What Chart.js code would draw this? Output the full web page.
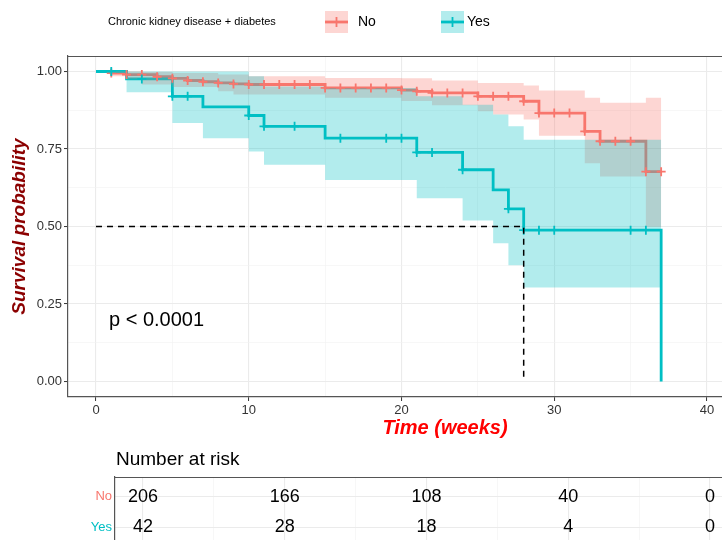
<!DOCTYPE html>
<html>
<head>
<meta charset="utf-8">
<script src="https://cdn.jsdelivr.net/npm/chart.js@4.4.1/dist/chart.umd.min.js"></script>
<style>
  html, body { margin: 0; padding: 0; background: #fff; overflow: hidden; }
  #wrap { position: relative; width: 722px; height: 540px; overflow: hidden; }
  #main { position: absolute; left: 0; top: 0; }
  #risk { position: absolute; left: 0; top: 445px; }
</style>
</head>
<body>
<div id="wrap">
  <canvas id="main" width="830" height="445"></canvas>
  <canvas id="risk" width="830" height="110"></canvas>
</div>
<script>
/* ===== DATA ===== */
const LEGEND_TITLE = 'Chronic kidney disease + diabetes';
const GROUPS = ['No', 'Yes'];

// Kaplan-Meier step curves: value holds from each time to the next
const NO_TIMES = [0, 1, 2, 4, 5, 6, 7, 8, 9, 10, 15, 20, 21, 22, 25, 28, 29, 32, 33, 36, 37];
const NO_SURV  = [1, 0.995, 0.990, 0.983, 0.978, 0.971, 0.967, 0.963, 0.960, 0.958, 0.947,
                  0.940, 0.936, 0.931, 0.920, 0.904, 0.866, 0.807, 0.775, 0.677, 0.677];
const NO_CENSOR = [1, 2, 3, 4, 5, 6, 7, 8, 9, 10, 11, 12, 13, 14, 15, 16, 17, 18, 19, 20,
                   21, 22, 23, 24, 25, 26, 27, 28, 29, 30, 31, 32, 33, 34, 35, 36, 37];

const YES_TIMES = [0, 2, 5, 7, 10, 11, 15, 21, 24, 26, 27, 28, 37];
const YES_SURV  = [1, 0.976, 0.920, 0.886, 0.858, 0.823, 0.785, 0.739, 0.683, 0.618, 0.557, 0.488, 0];
const YES_CENSOR = [1, 3, 5, 6, 10, 11, 13, 16, 19, 20, 21, 22, 24, 27, 28, 29, 30, 35, 36];

// 95% confidence bands
const NO_CI_TIMES = [0, 1, 2, 3, 5, 8, 9, 10, 15, 20, 22, 25, 26, 28, 29, 32, 33, 36, 37];
const NO_UPPER = [1, 1, 1, 0.998, 0.995, 0.990, 0.990, 0.985, 0.979, 0.978, 0.971, 0.963,
                  0.963, 0.955, 0.939, 0.915, 0.899, 0.915, 0.915];
const NO_LOWER = [1, 0.985, 0.975, 0.958, 0.950, 0.936, 0.926, 0.926, 0.915, 0.905, 0.891,
                  0.872, 0.861, 0.845, 0.793, 0.704, 0.661, 0.499, 0.499];

const YES_CI_TIMES = [0, 2, 5, 7, 10, 11, 15, 21, 24, 26, 27, 28, 37];
const YES_UPPER = [1, 1, 1, 1, 0.985, 0.952, 0.947, 0.920, 0.893, 0.861, 0.823, 0.780, 0.780];
const YES_LOWER = [1, 0.933, 0.834, 0.785, 0.742, 0.699, 0.650, 0.591, 0.519, 0.446, 0.375, 0.303, 0.303];

const MEDIAN_YES = 28;        // median survival of the "Yes" group
const PVAL_TEXT = 'p < 0.0001';
const PVAL_AT = [0.85, 0.196];

const X_TICKS = [0, 10, 20, 30, 40];
const X_GRID  = [0, 5, 10, 15, 20, 25, 30, 35, 40, 45];
const Y_TICKS = [0, 0.25, 0.5, 0.75, 1];
const Y_GRID  = [0, 0.125, 0.25, 0.375, 0.5, 0.625, 0.75, 0.875, 1];

const RISK_TIMES = [0, 10, 20, 30, 40];
const RISK_NO  = [206, 166, 108, 40, 0];
const RISK_YES = [42, 28, 18, 4, 0];

/* ===== STYLE ===== */
const FONT = '"Liberation Sans", Arial, Helvetica, sans-serif';
const RED = '#F8766D', TEAL = '#00BFC4';
const RED_FILL = 'rgba(248,118,109,0.3)', TEAL_FILL = 'rgba(0,191,196,0.3)';
const GRID = '#EBEBEB', GRID_MINOR = '#F2F2F2', BORDER = '#555', TICK = '#333';

/* ===== HELPERS ===== */
const pts = (xs, ys) => xs.map((x, i) => ({x, y: ys[i]}));
const survAt = (xs, ys, t) => { let v = ys[0]; xs.forEach((x, i) => { if (x <= t) v = ys[i]; }); return v; };
const censorPts = (cs, xs, ys) => cs.map(t => ({x: t, y: survAt(xs, ys, t)}));
const gridOpts = list => ({
  color: c => list.includes(c.tick.value) ? GRID : GRID_MINOR,
  lineWidth: c => list.includes(c.tick.value) ? 1.1 : 0.6,
  tickColor: c => list.includes(c.tick.value) ? TICK : 'rgba(0,0,0,0)',
  tickLength: 4,
  tickWidth: 1
});

const stepLine = (data, color, order) => ({
  data, order, stepped: 'before', borderColor: color, borderWidth: 2.8,
  pointRadius: 0, fill: false, borderJoinStyle: 'miter', borderCapStyle: 'butt'
});
const band = (data, fillColor, order, fill) => ({
  data, order, stepped: 'before', borderColor: 'rgba(0,0,0,0)', borderWidth: 0,
  pointRadius: 0, backgroundColor: fillColor, fill
});
const censors = (data, color, order) => ({
  data, order, showLine: false, pointStyle: 'cross', pointRadius: 4.5,
  pointBorderWidth: 1.8, pointBorderColor: color, pointHoverRadius: 0
});

/* ===== MAIN PLOT ===== */
const extras = {
  id: 'extras',
  afterDraw(chart) {
    const {ctx, chartArea: a, scales: {x, y}} = chart;
    ctx.save();
    ctx.strokeStyle = BORDER; ctx.lineWidth = 1.2;
    ctx.beginPath(); ctx.moveTo(a.left, a.top + 0.5); ctx.lineTo(a.right, a.top + 0.5); ctx.stroke();

    ctx.fillStyle = '#000'; ctx.textBaseline = 'middle'; ctx.textAlign = 'left';
    ctx.font = `20px ${FONT}`;
    ctx.fillText(PVAL_TEXT, x.getPixelForValue(PVAL_AT[0]), y.getPixelForValue(PVAL_AT[1]));

    // legend
    ctx.font = `11px ${FONT}`;
    ctx.fillText(LEGEND_TITLE, 108, 22);
    const keys = [{x: 325, tx: 358, c: RED, f: RED_FILL}, {x: 441, tx: 467, c: TEAL, f: TEAL_FILL}];
    keys.forEach((k, i) => {
      ctx.fillStyle = k.f; ctx.fillRect(k.x, 11, 23, 22);
      ctx.strokeStyle = k.c; ctx.lineWidth = 2.8;
      ctx.beginPath(); ctx.moveTo(k.x, 22); ctx.lineTo(k.x + 23, 22); ctx.stroke();
      ctx.lineWidth = 1.8;
      ctx.beginPath(); ctx.moveTo(k.x + 11.5, 17); ctx.lineTo(k.x + 11.5, 27);
      ctx.moveTo(k.x + 7, 22); ctx.lineTo(k.x + 16, 22); ctx.stroke();
      ctx.fillStyle = '#000'; ctx.font = `14px ${FONT}`;
      ctx.fillText(GROUPS[i], k.tx, 22);
    });
    ctx.restore();
  }
};

new Chart(document.getElementById('main'), {
  type: 'line',
  data: {
    datasets: [
      stepLine(pts(NO_TIMES, NO_SURV), RED, 8),
      stepLine(pts(YES_TIMES, YES_SURV), TEAL, 7),
      band(pts(NO_CI_TIMES, NO_UPPER), RED_FILL, 6, '+1'),
      band(pts(NO_CI_TIMES, NO_LOWER), RED_FILL, 6, false),
      band(pts(YES_CI_TIMES, YES_UPPER), TEAL_FILL, 5, '+1'),
      band(pts(YES_CI_TIMES, YES_LOWER), TEAL_FILL, 5, false),
      censors(censorPts(NO_CENSOR, NO_TIMES, NO_SURV), RED, 2),
      censors(censorPts(YES_CENSOR, YES_TIMES, YES_SURV), TEAL, 1),
      {data: [{x: 0, y: 0.5}, {x: MEDIAN_YES, y: 0.5}, {x: MEDIAN_YES, y: 0}], order: 0,
       borderColor: '#000', borderWidth: 1.5, borderDash: [6, 5], pointRadius: 0, fill: false}
    ]
  },
  options: {
    responsive: false, animation: false,
    layout: {padding: {left: 8, top: 56, right: 8, bottom: 5}},
    plugins: {legend: {display: false}, tooltip: {enabled: false}},
    scales: {
      x: {
        type: 'linear', min: -1.833, max: 47.53,
        afterBuildTicks: s => { s.ticks = X_GRID.map(v => ({value: v})); },
        afterFit: s => { s.height = 43; },
        ticks: {callback: v => X_TICKS.includes(v) ? String(v) : '', autoSkip: false, maxRotation: 0,
                color: TICK, padding: 2, font: {family: FONT, size: 13}},
        grid: gridOpts(X_TICKS),
        border: {color: BORDER, width: 1.2},
        title: {display: true, text: 'Time (weeks)', color: '#FF0000', padding: 0,
                font: {family: FONT, size: 20, weight: 'bold', style: 'italic'}}
      },
      y: {
        type: 'linear', min: -0.05, max: 1.05,
        afterBuildTicks: s => { s.ticks = Y_GRID.map(v => ({value: v})); },
        afterFit: s => { s.width = 60; },
        ticks: {callback: v => Y_TICKS.includes(v) ? v.toFixed(2) : '', autoSkip: false,
                color: TICK, padding: 2, font: {family: FONT, size: 13}},
        grid: gridOpts(Y_TICKS),
        border: {color: BORDER, width: 1.2},
        title: {display: true, text: 'Survival probability', color: '#8B0000', padding: 0,
                font: {family: FONT, size: 19, weight: 'bold', style: 'italic'}}
      }
    }
  },
  plugins: [extras]
});

/* ===== RISK TABLE ===== */
const riskText = {
  id: 'riskText',
  afterDraw(chart) {
    const {ctx, chartArea: a, scales: {x, y}} = chart;
    ctx.save();
    ctx.strokeStyle = BORDER; ctx.lineWidth = 1.2;
    ctx.beginPath(); ctx.moveTo(a.left, a.top + 0.5); ctx.lineTo(a.right, a.top + 0.5); ctx.stroke();
    ctx.fillStyle = '#000'; ctx.textBaseline = 'middle';
    ctx.textAlign = 'left'; ctx.font = `19px ${FONT}`;
    ctx.fillText('Number at risk', a.left + 1, 15);
    ctx.textAlign = 'center'; ctx.font = `18px ${FONT}`;
    RISK_TIMES.forEach((t, i) => {
      ctx.fillText(String(RISK_NO[i]), x.getPixelForValue(t), y.getPixelForValue(2));
      ctx.fillText(String(RISK_YES[i]), x.getPixelForValue(t), y.getPixelForValue(1));
    });
    ctx.restore();
  }
};

new Chart(document.getElementById('risk'), {
  type: 'scatter',
  data: {datasets: []},
  options: {
    responsive: false, animation: false,
    layout: {padding: {left: 0, top: 32, right: 8, bottom: 0}},
    plugins: {legend: {display: false}, tooltip: {enabled: false}},
    scales: {
      x: {
        type: 'linear', min: -1.975, max: 47.9,
        afterBuildTicks: s => { s.ticks = X_GRID.map(v => ({value: v})); },
        afterFit: s => { s.height = 0; },
        ticks: {display: false},
        grid: {color: c => X_TICKS.includes(c.tick.value) ? GRID : GRID_MINOR,
               lineWidth: c => X_TICKS.includes(c.tick.value) ? 1.1 : 0.6, drawTicks: false},
        border: {display: false}
      },
      y: {
        type: 'linear', min: 0.45, max: 2.65,
        afterBuildTicks: s => { s.ticks = [{value: 1}, {value: 2}]; },
        afterFit: s => { s.width = 115; },
        ticks: {callback: v => GROUPS[2 - v], color: c => c.tick.value === 2 ? RED : TEAL,
                padding: 3, font: {family: FONT, size: 13}},
        grid: {color: GRID, lineWidth: 1.1, drawTicks: false},
        border: {color: BORDER, width: 1.2}
      }
    }
  },
  plugins: [riskText]
});
</script>
</body>
</html>
